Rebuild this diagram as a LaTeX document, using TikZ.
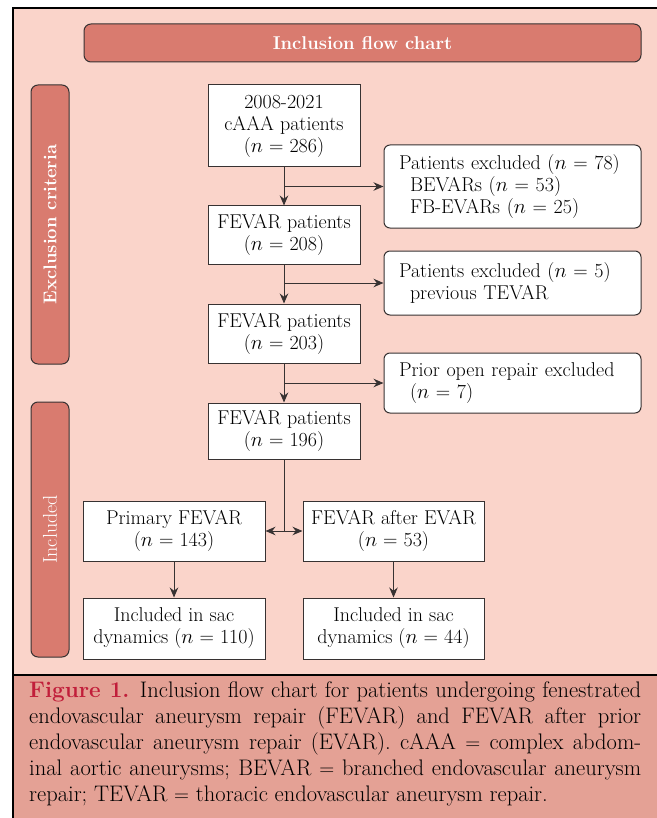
\documentclass[tikz,border=0pt]{standalone}
\usetikzlibrary{arrows.meta}
\definecolor{bgpink}{RGB}{250,212,202}
\definecolor{barred}{RGB}{217,123,111}
\definecolor{capbg}{RGB}{228,161,149}
\definecolor{figred}{RGB}{193,30,58}
\definecolor{edge}{RGB}{55,50,50}
\tikzset{
  box/.style={draw=edge, line width=1pt, fill=white, align=center, inner sep=2pt,
    font=\fontsize{20}{22}\selectfont},
  exbox/.style={box, rounded corners=6pt, align=left, inner xsep=15pt},
  bar/.style={draw=edge, line width=1pt, fill=barred, rounded corners=7pt, text=white,
    font=\fontsize{18.5}{20}\selectfont\bfseries, inner sep=0pt},
  conn/.style={draw=edge, line width=1pt},
  arr/.style={conn, -{Stealth[length=10pt,width=8.5pt]}},
  darr/.style={conn, {Stealth[length=10pt,width=8.5pt]}-{Stealth[length=10pt,width=8.5pt]}}
}
\begin{document}
\begin{tikzpicture}[x=1pt,y=-1pt]
\useasboundingbox (0,0) rectangle (656,818);
% backgrounds
\fill[bgpink] (13,8) rectangle (660,675);
\fill[capbg] (13,675) rectangle (660,818);
\draw[black, line width=1.2pt] (660,8) -- (13,8) -- (13,818);
\draw[black, line width=1.2pt] (13,675) -- (660,675);
% bars
\node[bar, minimum width=557pt, minimum height=38pt] (title) at (362.5,43) {Inclusion flow chart};
\node[bar, minimum width=38pt, minimum height=279pt] (excl) at (50,224.5) {\rotatebox{90}{Exclusion criteria}};
\node[bar, minimum width=38pt, minimum height=255pt, font=\fontsize{20}{22}\selectfont] (incl) at (50,529.5) {\rotatebox{90}{Included}};
% main boxes
\node[box, minimum width=152pt, minimum height=82pt] (b1) at (284,126) {2008-2021\\cAAA patients\\($n$ = 286)};
\node[box, minimum width=152pt, minimum height=58pt] (b2) at (284,235) {FEVAR patients\\($n$ = 208)};
\node[box, minimum width=152pt, minimum height=59pt] (b3) at (284,333.5) {FEVAR patients\\($n$ = 203)};
\node[box, minimum width=152pt, minimum height=56pt] (b4) at (284,431) {FEVAR patients\\($n$ = 196)};
% exclusion boxes
\node[exbox, text width=227pt, minimum height=83pt] (e1) at (512.5,186.5) {Patients excluded ($n$ = 78)\\\hspace*{11pt}BEVARs ($n$ = 53)\\\hspace*{11pt}FB-EVARs ($n$ = 25)};
\node[exbox, text width=227pt, minimum height=64pt] (e2) at (512.5,283) {Patients excluded ($n$ = 5)\\\hspace*{11pt}previous TEVAR};
\node[exbox, text width=227pt, minimum height=60pt] (e3) at (512.5,383) {Prior open repair excluded\\\hspace*{11pt}($n$ = 7)};
% included boxes
\node[box, minimum width=182pt, minimum height=60pt] (p1) at (174,531) {Primary FEVAR\\($n$ = 143)};
\node[box, minimum width=181pt, minimum height=60pt] (p2) at (393.5,531) {FEVAR after EVAR\\($n$ = 53)};
\node[box, minimum width=182pt, minimum height=61pt] (s1) at (174,628.5) {Included in sac\\dynamics ($n$ = 110)};
\node[box, minimum width=181pt, minimum height=61pt] (s2) at (393.5,628.5) {Included in sac\\dynamics ($n$ = 44)};
% connectors
\draw[arr] (b1.south) -- (b2.north);
\draw[arr] (b1.south |- e1.west) -- (e1.west);
\draw[arr] (b2.south) -- (b3.north);
\draw[arr] (b2.south |- e2.west) -- (e2.west);
\draw[arr] (b3.south) -- (b4.north);
\draw[arr] (b3.south |- e3.west) -- (e3.west);
\coordinate (split) at (b4.south |- p1.east);
\draw[conn] (b4.south) -- (split);
\draw[darr] (p1.east) -- (p2.west);
\draw[arr] (p1.south) -- (s1.north);
\draw[arr] (p2.south) -- (s2.north);
% caption
\node[anchor=north west, text width=612pt, align=justify, inner sep=0pt,
  font=\fontsize{22.5}{26.2}\selectfont] (cap) at (29,681)
  {{\color{figred}\bfseries Figure 1.} Inclusion flow chart for patients undergoing fenestrated\linebreak
   endovascular aneurysm repair (FEVAR) and FEVAR after prior\linebreak
   endovascular aneurysm repair (EVAR). cAAA $=$ complex abdom-\linebreak
   inal aortic aneurysms; BEVAR $=$ branched endovascular aneurysm\linebreak
   repair; TEVAR $=$ thoracic endovascular aneurysm repair.};
\end{tikzpicture}
\end{document}
